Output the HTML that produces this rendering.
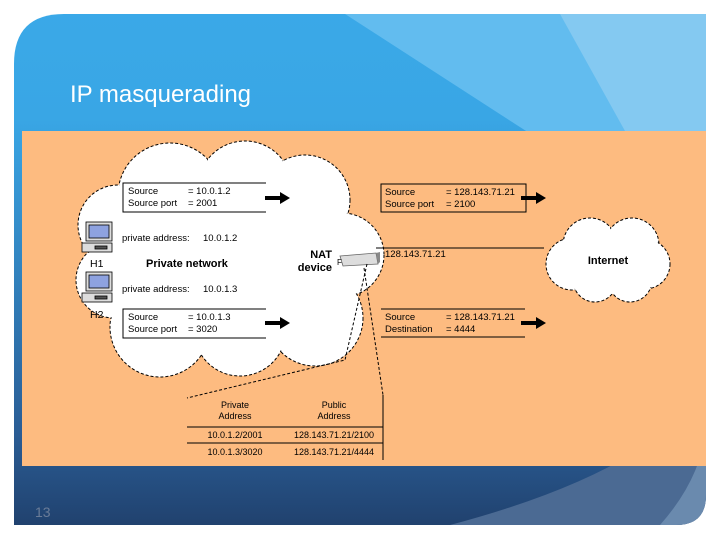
<!DOCTYPE html>
<html><head><style>
body{margin:0;width:720px;height:540px;overflow:hidden;background:#fff}
svg{display:block}
text{font-family:"Liberation Sans",sans-serif}
</style></head><body>
<svg width="720" height="540" viewBox="0 0 720 540">
<defs>
<linearGradient id="bg" x1="0" y1="0" x2="0" y2="1">
<stop offset="0" stop-color="#3aa9e8"/><stop offset="0.22" stop-color="#39a6e5"/>
<stop offset="0.8" stop-color="#2a5d95"/><stop offset="1" stop-color="#1f3d68"/></linearGradient>
<clipPath id="cl"><path d="M64 14 H706 V495 Q706 525 676 525 H14 V64 Q14 14 64 14 Z"/></clipPath>
</defs>
<g clip-path="url(#cl)">
<rect x="0" y="0" width="720" height="540" fill="url(#bg)"/>
<polygon points="345,14 706,14 706,140 540,140" fill="#62bcef"/>
<polygon points="560,14 706,14 706,140 630,140" fill="#84c9f1"/>
<path d="M450 525 Q620 480 690 410 L706 410 V525 Z" fill="#4b6a93"/>
<path d="M660 525 Q700 480 706 430 V525 Z" fill="#6a8aae"/>
</g>
<text x="70" y="102" font-size="24" fill="#fff">IP masquerading</text>
<rect x="22" y="131" width="684" height="335" fill="#fdbb80"/>
<text x="35" y="517" font-size="14" fill="#6a7c98" font-family="Liberation Serif">13</text>
<g fill="#fff" stroke="#000" stroke-dasharray="3,2" stroke-width="1">
<circle cx="170" cy="195" r="52"/><circle cx="245" cy="188" r="47"/><circle cx="305" cy="200" r="45"/>
<circle cx="342" cy="255" r="42"/><circle cx="315" cy="318" r="48"/><circle cx="240" cy="330" r="46"/>
<circle cx="160" cy="327" r="50"/><circle cx="114" cy="280" r="38"/><circle cx="118" cy="225" r="40"/>
<circle cx="590" cy="245" r="27"/><circle cx="632" cy="245" r="27"/><circle cx="572" cy="264" r="26"/>
<circle cx="645" cy="264" r="25"/><circle cx="595" cy="280" r="22"/><circle cx="630" cy="280" r="22"/>
</g>
<g fill="#fff">
<circle cx="170" cy="195" r="51"/><circle cx="245" cy="188" r="46"/><circle cx="305" cy="200" r="44"/>
<circle cx="342" cy="255" r="41"/><circle cx="315" cy="318" r="47"/><circle cx="240" cy="330" r="45"/>
<circle cx="160" cy="327" r="49"/><circle cx="114" cy="280" r="37"/><circle cx="118" cy="225" r="39"/>
<circle cx="230" cy="262" r="95"/>
<circle cx="590" cy="245" r="26"/><circle cx="632" cy="245" r="26"/><circle cx="572" cy="264" r="25"/>
<circle cx="645" cy="264" r="24"/><circle cx="595" cy="280" r="21"/><circle cx="630" cy="280" r="21"/>
<circle cx="610" cy="262" r="32"/>
</g>
<g font-size="9.5" fill="#000">
<path d="M266 183 H123 V212 H266" fill="none" stroke="#000"/>
<text x="128" y="194">Source</text><text x="188" y="194">= 10.0.1.2</text>
<text x="128" y="206">Source port</text><text x="188" y="206">= 2001</text>
<path d="M266 309 H123 V338 H266" fill="none" stroke="#000"/>
<text x="128" y="320">Source</text><text x="188" y="320">= 10.0.1.3</text>
<text x="128" y="332">Source port</text><text x="188" y="332">= 3020</text>
<rect x="381" y="184" width="145" height="28" fill="none" stroke="#000"/>
<text x="385" y="195">Source</text><text x="446" y="195">= 128.143.71.21</text>
<text x="385" y="207">Source port</text><text x="446" y="207">= 2100</text>
<path d="M381 309 H525 M381 337 H525" stroke="#000"/>
<text x="385" y="320">Source</text><text x="446" y="320">= 128.143.71.21</text>
<text x="385" y="332">Destination</text><text x="446" y="332">= 4444</text>
<path d="M376 248 H544" stroke="#000"/>
<text x="385" y="257">128.143.71.21</text>
<text x="122" y="241">private address:</text><text x="203" y="241">10.0.1.2</text>
<text x="122" y="292">private address:</text><text x="203" y="292">10.0.1.3</text>
<text x="90" y="267" font-size="10.5">H1</text><text x="90" y="318" font-size="10.5">H2</text>
<text x="146" y="267" font-size="11" font-weight="bold">Private network</text>
<text x="332" y="258" font-size="11" font-weight="bold" text-anchor="end">NAT</text>
<text x="332" y="271" font-size="11" font-weight="bold" text-anchor="end">device</text>
<text x="608" y="264" font-size="11" font-weight="bold" text-anchor="middle">Internet</text>
</g>
<g fill="#000">
<rect x="265" y="196" width="16" height="4"/><polygon points="280,192 290,198 280,204"/>
<rect x="265" y="321" width="16" height="4"/><polygon points="280,317 290,323 280,329"/>
<rect x="521" y="196" width="16" height="4"/><polygon points="536,192 546,198 536,204"/>
<rect x="521" y="321" width="16" height="4"/><polygon points="536,317 546,323 536,329"/>
</g>
<g stroke="#000" stroke-width="0.8">
<rect x="86" y="222" width="26" height="19" fill="#ddd"/><rect x="89" y="225" width="20" height="13" fill="#8ea2e0"/>
<rect x="82" y="243" width="30" height="9" fill="#ddd"/><rect x="95" y="246" width="12" height="3" fill="#555"/>
<rect x="86" y="272" width="26" height="19" fill="#ddd"/><rect x="89" y="275" width="20" height="13" fill="#8ea2e0"/>
<rect x="82" y="293" width="30" height="9" fill="#ddd"/><rect x="95" y="296" width="12" height="3" fill="#555"/>
</g>
<polygon points="340,256 376,253 378,264 343,266" fill="#ddd" stroke="#666" stroke-width="0.8"/>
<polygon points="376,253 380,252 380,262 378,264" fill="#888"/>
<text x="337" y="265" font-size="8" fill="#000">F</text>
<g stroke="#000" stroke-dasharray="3,2" fill="none">
<path d="M367 264 L345 360 L187 398"/>
<path d="M364 268 L383 395"/>
</g>
<path d="M383 395 V460" stroke="#000"/>
<path d="M187 427 H383 M187 443 H383" stroke="#000"/>
<g font-size="9" text-anchor="middle" fill="#000">
<text x="235" y="408">Private</text><text x="235" y="419">Address</text>
<text x="334" y="408">Public</text><text x="334" y="419">Address</text>
<text x="235" y="438">10.0.1.2/2001</text><text x="334" y="438">128.143.71.21/2100</text>
<text x="235" y="455">10.0.1.3/3020</text><text x="334" y="455">128.143.71.21/4444</text>
</g>
</svg>
</body></html>
